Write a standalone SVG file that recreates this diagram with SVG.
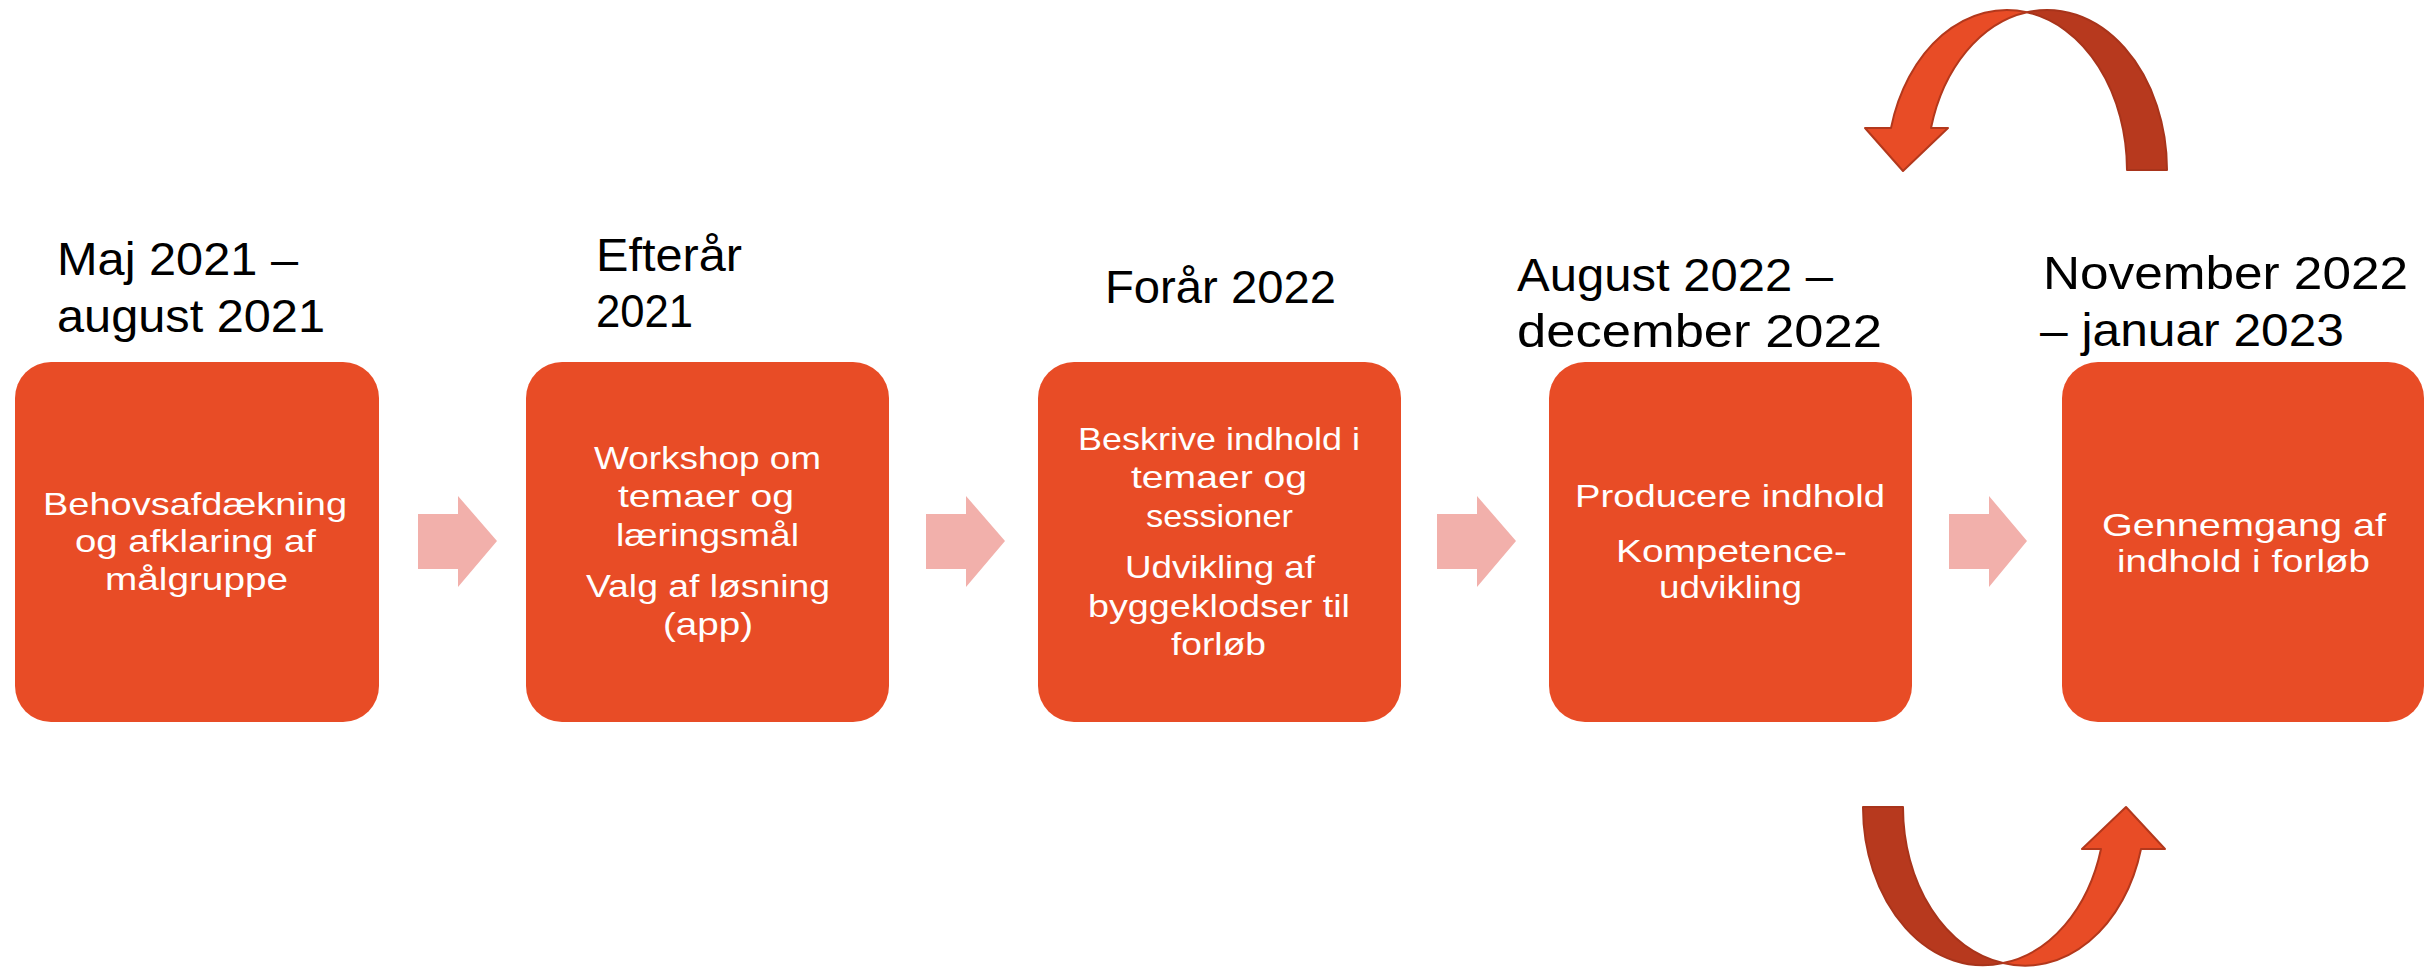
<svg xmlns="http://www.w3.org/2000/svg" width="2425" height="969" viewBox="0 0 2425 969">
<style>
  .box { fill: #E84C26; }
  .hdr { font-family: "Liberation Sans", Arial, sans-serif; font-size: 46px; fill: #000000; }
  .lbl { font-family: "Liberation Sans", Arial, sans-serif; font-size: 32px; fill: #FFFFFF; }
  .step { fill: #F2B0AB; }
  .cfront { fill: #E84C26; stroke: #B3381C; stroke-width: 2; stroke-linejoin: round; }
  .cback { fill: #B7391E; stroke: #A8341B; stroke-width: 2; stroke-linejoin: round; }
</style>
<rect width="2425" height="969" fill="#FFFFFF"/>

<g id="connectors">
  <polygon class="step" points="418,514 458,514 458,496 497,541 458,587 458,569 418,569"/>
  <polygon class="step" points="926,514 966,514 966,496 1005,541 966,587 966,569 926,569"/>
  <polygon class="step" points="1437,514 1477,514 1477,496 1516,541 1477,587 1477,569 1437,569"/>
  <polygon class="step" points="1949,514 1989,514 1989,496 2027,541 1989,587 1989,569 1949,569"/>
  <g id="cycle-top">
    <path class="cback" d="M2027,12.2 A120,160 0 0 1 2167,170 L2127,170 A120,160 0 0 0 2027,12.2 Z"/>
    <path class="cfront" d="M1891,128 A120,160 0 0 1 2027,12.2 A120,160 0 0 0 1931,128 L1948,128 L1903,171 L1865,128 Z"/>
  </g>
  <g id="cycle-bottom">
    <path class="cback" d="M1863,807 A120,158 0 0 0 2003,963 A120,158 0 0 1 1903,807 Z"/>
    <path class="cfront" d="M2003,963 A120,158 0 0 0 2141,849 L2165,849 L2126,807 L2082,849 L2101,849 A120,158 0 0 1 2003,963 Z"/>
  </g>
</g>

<g id="node1">
  <text class="hdr" x="57" y="275" textLength="241" lengthAdjust="spacingAndGlyphs">Maj 2021 –</text>
  <text class="hdr" x="57" y="332" textLength="268" lengthAdjust="spacingAndGlyphs">august 2021</text>
  <rect class="box" x="15" y="362" width="364" height="360" rx="36" ry="36"/>
  <text class="lbl" x="43" y="515" textLength="304" lengthAdjust="spacingAndGlyphs">Behovsafdækning</text>
  <text class="lbl" x="75" y="552" textLength="241" lengthAdjust="spacingAndGlyphs">og afklaring af</text>
  <text class="lbl" x="105" y="590" textLength="183" lengthAdjust="spacingAndGlyphs">målgruppe</text>
</g>

<g id="node2">
  <text class="hdr" x="596" y="271" textLength="146" lengthAdjust="spacingAndGlyphs">Efterår</text>
  <text class="hdr" x="596" y="327" textLength="97" lengthAdjust="spacingAndGlyphs">2021</text>
  <rect class="box" x="526" y="362" width="363" height="360" rx="36" ry="36"/>
  <text class="lbl" x="594" y="469" textLength="227" lengthAdjust="spacingAndGlyphs">Workshop om</text>
  <text class="lbl" x="618" y="507" textLength="176" lengthAdjust="spacingAndGlyphs">temaer og</text>
  <text class="lbl" x="616" y="546" textLength="183" lengthAdjust="spacingAndGlyphs">læringsmål</text>
  <text class="lbl" x="586" y="597" textLength="244" lengthAdjust="spacingAndGlyphs">Valg af løsning</text>
  <text class="lbl" x="663" y="635" textLength="90" lengthAdjust="spacingAndGlyphs">(app)</text>
</g>

<g id="node3">
  <text class="hdr" x="1105" y="303" textLength="231" lengthAdjust="spacingAndGlyphs">Forår 2022</text>
  <rect class="box" x="1038" y="362" width="363" height="360" rx="36" ry="36"/>
  <text class="lbl" x="1078" y="450" textLength="282" lengthAdjust="spacingAndGlyphs">Beskrive indhold i</text>
  <text class="lbl" x="1131" y="488" textLength="176" lengthAdjust="spacingAndGlyphs">temaer og</text>
  <text class="lbl" x="1146" y="527" textLength="147" lengthAdjust="spacingAndGlyphs">sessioner</text>
  <text class="lbl" x="1125" y="578" textLength="190" lengthAdjust="spacingAndGlyphs">Udvikling af</text>
  <text class="lbl" x="1088" y="617" textLength="262" lengthAdjust="spacingAndGlyphs">byggeklodser til</text>
  <text class="lbl" x="1171" y="655" textLength="95" lengthAdjust="spacingAndGlyphs">forløb</text>
</g>

<g id="node4">
  <text class="hdr" x="1517" y="291" textLength="316" lengthAdjust="spacingAndGlyphs">August 2022 –</text>
  <text class="hdr" x="1517" y="347" textLength="365" lengthAdjust="spacingAndGlyphs">december 2022</text>
  <rect class="box" x="1549" y="362" width="363" height="360" rx="36" ry="36"/>
  <text class="lbl" x="1575" y="507" textLength="310" lengthAdjust="spacingAndGlyphs">Producere indhold</text>
  <text class="lbl" x="1616" y="562" textLength="231" lengthAdjust="spacingAndGlyphs">Kompetence-</text>
  <text class="lbl" x="1659" y="598" textLength="143" lengthAdjust="spacingAndGlyphs">udvikling</text>
</g>

<g id="node5">
  <text class="hdr" x="2043" y="289" textLength="365" lengthAdjust="spacingAndGlyphs">November 2022</text>
  <text class="hdr" x="2040" y="346" textLength="304" lengthAdjust="spacingAndGlyphs">– januar 2023</text>
  <rect class="box" x="2062" y="362" width="362" height="360" rx="36" ry="36"/>
  <text class="lbl" x="2102" y="536" textLength="284" lengthAdjust="spacingAndGlyphs">Gennemgang af</text>
  <text class="lbl" x="2117" y="572" textLength="253" lengthAdjust="spacingAndGlyphs">indhold i forløb</text>
</g>
</svg>
